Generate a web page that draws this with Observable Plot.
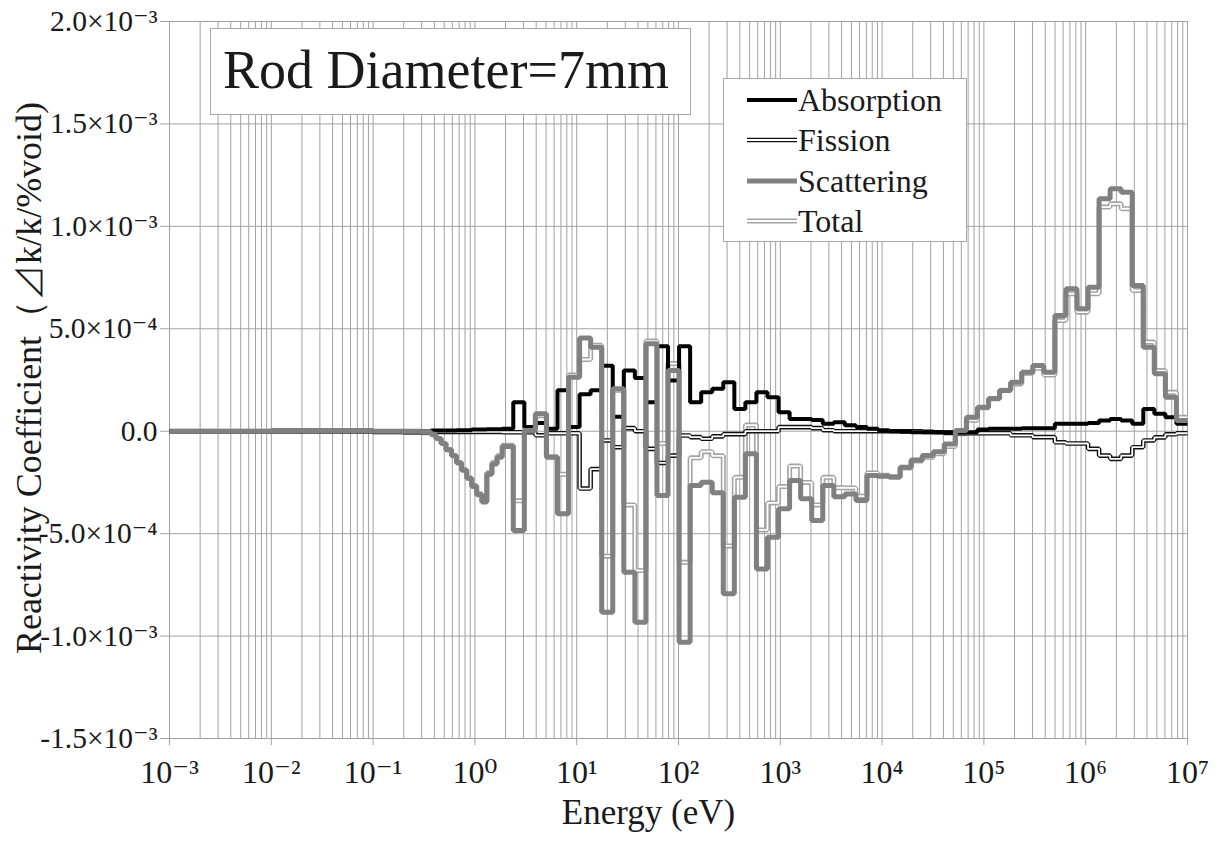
<!DOCTYPE html>
<html><head><meta charset="utf-8">
<script src="https://cdn.jsdelivr.net/npm/d3@7"></script>
<script src="https://cdn.jsdelivr.net/npm/@observablehq/plot@0.6"></script>
<style>
body{margin:0;background:#fff;}
#chart{width:1220px;height:843px;}
</style></head><body><div id="chart"></div>
<script>
// ---- data (values in units of 1e-4 Δk/k/%void) ----
const titleText = "Rod Diameter=7mm";
const xLabelText = "Energy (eV)";
const yLabelText = "Reactivity Coefficient（⊿k/k/%void)";
const seriesNames = ["Absorption", "Fission", "Scattering", "Total"];

// energy group boundaries (eV), ascending
const edgesEV = [0.001, 0.01, 0.1, 0.2, 0.3, 0.37, 0.414, 0.465, 0.52, 0.59, 0.66, 0.74, 0.83, 0.93, 1.04, 1.17, 1.31, 1.47, 1.65, 1.8554,
  2.3824, 3.0590, 3.9279, 5.0435, 6.4760, 8.3153, 10.677, 13.710, 17.603, 22.603, 29.023, 37.267, 47.851, 61.442, 78.893, 101.30, 130.07,
  167.02, 214.45, 275.36, 353.57, 454.00, 582.95, 748.52, 961.12, 1234.1, 1584.6, 2034.7, 2612.6, 3354.6, 4307.4, 5530.8, 7101.7, 9118.8,
  11709, 15034, 19305, 24788, 31828, 40868, 52475, 67379, 86517, 111090, 142640, 183160, 235180, 301970, 387740, 497870, 639280, 820850,
  1054000, 1353400, 1737700, 2231300, 2865000, 3678800, 4723700, 6065300, 7788000, 10000000];

const absorption = [0, 0, 0, 0, 0, 0.03, 0.03, 0.03, 0.03, 0.03, 0.05, 0.05, 0.05, 0.08, 0.08, 0.08, 0.1, 0.1, 0.1,
  0.12, 1.42, 0.2, 0.4, 0.12, 2.0, 0.2, 1.8, 2.0, 3.2, 0.7, 2.96, 2.6, 1.42, 4.15, 2.47, 4.15, 1.42, 1.9, 2.07, 2.39, 1.09,
  1.42, 1.9, 1.66, 0.93, 0.6, 0.6, 0.55, 0.36, 0.44, 0.29, 0.21, 0.12, 0.05, 0.0, -0.03, -0.05, -0.05, -0.05, -0.05, -0.05,
  -0.05, 0.08, 0.12, 0.12, 0.12, 0.15, 0.15, 0.15, 0.36, 0.36, 0.36, 0.4, 0.52, 0.6, 0.52, 0.36, 1.09, 0.85, 0.68, 0.36];

const fission = [0, 0, -0.03, -0.05, -0.05, -0.05, -0.03, -0.03, -0.03, -0.03, -0.03, -0.03, -0.03, -0.03, -0.03, -0.03, -0.03, -0.03, -0.03,
  -0.05, -0.05, -0.05, -0.2, -0.1, -0.1, -0.1, -2.8, -1.85, -0.45, -0.78, 0.15, 0.0, -0.86, -1.55, -1.19, -0.21, -0.29, -0.37, -0.25,
  -0.14, -0.14, 0.0, 0.0, 0.0, 0.2, 0.2, 0.2, 0.15, 0.05, 0, 0, 0, 0, 0, 0, 0, 0, -0.03, -0.05, -0.08, -0.1, -0.1, -0.1, -0.1,
  -0.1, -0.2, -0.2, -0.29, -0.29, -0.54, -0.6, -0.6, -0.86, -1.19, -1.35, -1.19, -0.78, -0.45, -0.3, -0.15, -0.1];

const scattering = [0, 0.03, 0, 0, -0.03, -0.15, -0.35, -0.6, -0.9, -1.2, -1.55, -1.9, -2.3, -2.7, -3.1, -3.45, -2.1, -1.6, -1.27,
  -0.75, -4.85, 0.03, 0.85, -1.27, -4.03, 2.64, 4.55, 4.1, -8.84, 2.07, -6.88, -9.33, 4.27, -3.14, 2.96, -10.3, -2.65, -2.49, -3.0,
  -7.94, -3.22, -1.1, -6.72, -5.17, -3.79, -2.4, -3.3, -4.36, -2.65, -3.2, -3.06, -3.38, -2.16, -2.2, -2.24, -1.76, -1.4, -1.19, -1.0,
  -0.62, 0.03, 0.68, 1.17, 1.58, 1.99, 2.39, 2.88, 3.21, 2.88, 5.65, 6.95, 5.98, 7.03, 11.35, 11.84, 11.67, 7.11, 4.1, 2.8, 1.66, 0.52];

const total = [0, 0.03, -0.03, -0.05, -0.08, -0.17, -0.35, -0.6, -0.9, -1.2, -1.53, -1.88, -2.28, -2.65, -3.05, -3.4, -2.03, -1.53, -1.2,
  -0.68, -3.4, 0.18, 0.75, -1.25, -2.1, 2.74, 3.5, 4.2, -6.1, 2.0, -3.6, -6.8, 4.4, -0.6, 3.3, -6.4, -1.3, -1.0, -1.2, -5.6, -2.25,
  0.3, -4.82, -3.5, -2.7, -1.7, -2.5, -3.6, -2.25, -2.76, -2.77, -3.17, -2.04, -2.15, -2.24, -1.79, -1.45, -1.27, -1.1, -0.75, -0.12,
  0.53, 1.15, 1.6, 2.0, 2.31, 2.83, 3.07, 2.74, 5.4, 6.71, 5.81, 6.71, 10.94, 11.1, 10.86, 6.87, 4.35, 2.96, 1.9, 0.68];

const xTicks = [1e-3, 1e-2, 1e-1, 1, 10, 100, 1e3, 1e4, 1e5, 1e6, 1e7];
const xTickLabels = ["10⁻³", "10⁻²", "10⁻¹", "10⁰", "10¹", "10²", "10³", "10⁴", "10⁵", "10⁶", "10⁷"];
const yTicks = [-15, -10, -5, 0, 5, 10, 15, 20];
const yTickLabels = ["-1.5×10⁻³", "-1.0×10⁻³", "-5.0×10⁻⁴", "0.0", "5.0×10⁻⁴", "1.0×10⁻³", "1.5×10⁻³", "2.0×10⁻³"];
const minorMultipliers = [1, 2, 3, 4, 5, 6, 7, 8, 9];

// ---- build ----
const xGrid = [];
xTicks.slice(0, -1).forEach(d => minorMultipliers.forEach(m => xGrid.push(d * m)));
xGrid.push(xTicks[xTicks.length - 1]);

function stepData(vals) {
  const d = vals.map((v, i) => ({E: edgesEV[i], v}));
  d.push({E: edgesEV[edgesEV.length - 1], v: vals[vals.length - 1]});
  return d;
}
const xLab = new Map(xTicks.map((d, i) => [d, xTickLabels[i]]));
const yLab = new Map(yTicks.map((d, i) => [d, yTickLabels[i]]));
const FONT = '"Liberation Serif", "Times New Roman", "DejaVu Serif", serif';
const GRID = "#a2a2a2";
const lineOpts = {x: "E", y: "v", curve: "step-after", strokeLinejoin: "miter", strokeLinecap: "butt"};

const plot = Plot.plot({
  width: 1220, height: 843,
  marginLeft: 169, marginRight: 33, marginTop: 21, marginBottom: 105,
  style: {fontFamily: FONT, background: "#fff", color: "#1a1a1a"},
  x: {type: "log", domain: [1e-3, 1e7]},
  y: {domain: [-15, 20]},
  marks: [
    Plot.gridX(xGrid, {stroke: GRID, strokeOpacity: 1, strokeWidth: 1}),
    Plot.gridY(yTicks, {stroke: GRID, strokeOpacity: 1, strokeWidth: 1}),
    Plot.axisX(xTicks, {tickFormat: d => xLab.get(d), tickSize: 7, tickPadding: 15, fontSize: 32, stroke: GRID, fill: "#1a1a1a", label: null}),
    Plot.axisY(yTicks, {tickFormat: d => yLab.get(d), tickSize: 9, tickPadding: 3, fontSize: 29.5, stroke: GRID, fill: "#1a1a1a", label: null}),
    // Total (double gray)
    Plot.line(stepData(total), {...lineOpts, stroke: "#a3a3a3", strokeWidth: 5}),
    Plot.line(stepData(total), {...lineOpts, stroke: "#fff", strokeWidth: 1.8}),
    // Fission (double black)
    Plot.line(stepData(fission), {...lineOpts, stroke: "#111", strokeWidth: 4.6}),
    Plot.line(stepData(fission), {...lineOpts, stroke: "#fff", strokeWidth: 1.8}),
    // Absorption
    Plot.line(stepData(absorption), {...lineOpts, stroke: "#000", strokeWidth: 4}),
    // Scattering
    Plot.line(stepData(scattering), {...lineOpts, stroke: "#808080", strokeWidth: 5}),
    Plot.text([xLabelText], {text: d => d, frameAnchor: "bottom", textAnchor: "middle", dx: -30, dy: 74, fontSize: 35, lineAnchor: "middle", fill: "#1a1a1a"}),
    Plot.text([yLabelText], {text: d => d, frameAnchor: "left", textAnchor: "middle", rotate: -90, dx: -140, dy: -2, fontSize: 36, lineAnchor: "middle", fill: "#1a1a1a"})
  ]
});
document.getElementById("chart").appendChild(plot);

// title box and legend inside the plot area
const svg = d3.select(plot);
const g = svg.append("g").style("font-family", FONT).attr("fill", "#1a1a1a");
g.append("rect").attr("x", 210.5).attr("y", 28.5).attr("width", 480).attr("height", 86)
  .attr("fill", "#fff").attr("stroke", "#a8a8a8");
g.append("text").attr("x", 446).attr("y", 88).style("text-anchor", "middle").style("font-family", FONT)
  .style("font-size", "54px").text(titleText);

g.append("rect").attr("x", 723.5).attr("y", 78.5).attr("width", 243).attr("height", 163)
  .attr("fill", "#fff").attr("stroke", "#a8a8a8");
const rowY = [100, 140, 181, 221];
const swatch = [
  [{stroke: "#000", w: 4}],
  [{stroke: "#111", w: 4.6}, {stroke: "#fff", w: 1.8}],
  [{stroke: "#808080", w: 5}],
  [{stroke: "#a3a3a3", w: 5}, {stroke: "#fff", w: 1.8}]
];
seriesNames.forEach((name, i) => {
  swatch[i].forEach(s => g.append("line").attr("x1", 747).attr("x2", 797).attr("y1", rowY[i]).attr("y2", rowY[i])
    .attr("stroke", s.stroke).attr("stroke-width", s.w));
  g.append("text").attr("x", 798).attr("y", rowY[i] + 11).style("text-anchor", "start").style("font-family", FONT)
    .style("font-size", "32px").text(name);
});
</script></body></html>
